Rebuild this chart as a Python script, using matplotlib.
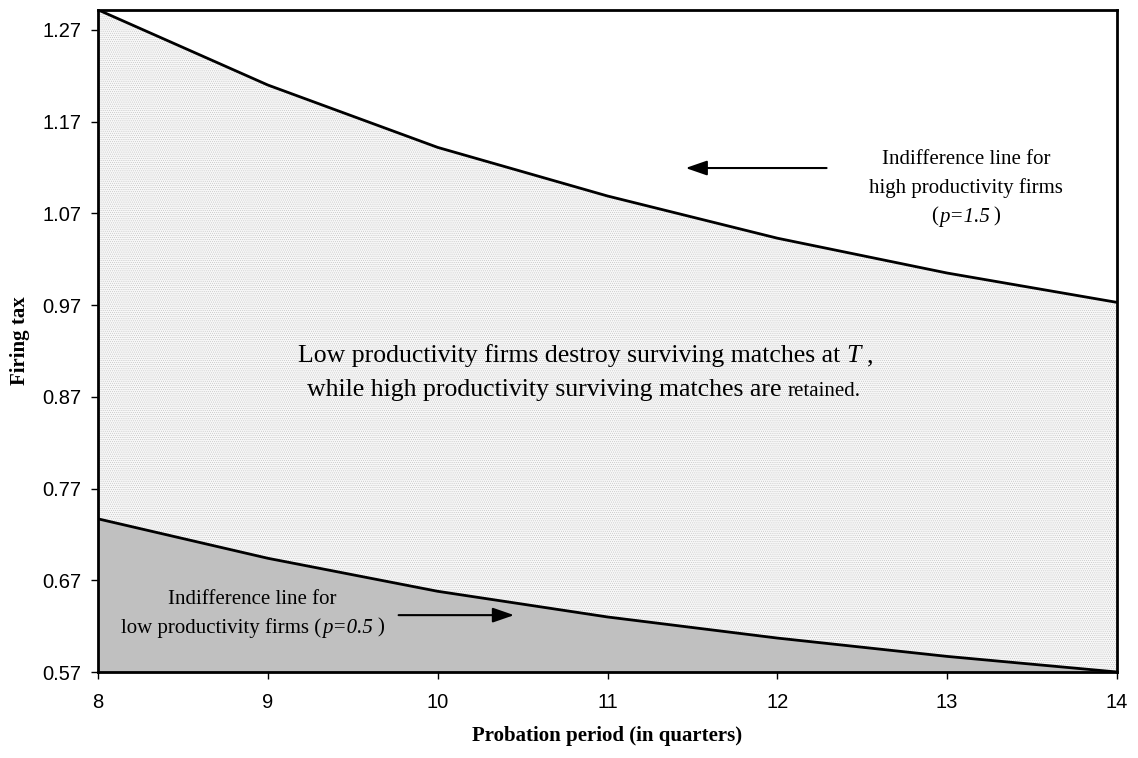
import matplotlib
matplotlib.use("Agg")
import matplotlib.pyplot as plt
import matplotlib.transforms as mtransforms

# Data
periods = [8, 9, 10, 11, 12, 13, 14]
high_line = [1.292, 1.210, 1.142, 1.089, 1.043, 1.005, 0.973]
low_line = [0.737, 0.694, 0.658, 0.630, 0.607, 0.587, 0.570]
yticks = [0.57, 0.67, 0.77, 0.87, 0.97, 1.07, 1.17, 1.27]
xticks = [8, 9, 10, 11, 12, 13, 14]

plt.rcParams['hatch.linewidth'] = 0.4
serif = 'Liberation Serif'

fig = plt.figure(figsize=(11.38, 7.58), dpi=100)
ax = fig.add_axes([98/1138, 1-672/758, (1117-98)/1138, (672-10)/758])

ymin, ymax = 0.57, 1.2918
ax.set_xlim(8, 14)
ax.set_ylim(ymin, ymax)

# Fills
ax.fill_between(periods, ymin, low_line, facecolor='#c0c0c0', edgecolor='none', zorder=1)
ax.fill_between(periods, low_line, high_line, facecolor='#f7f7f7', edgecolor='#c4c4c4',
                hatch='........', linewidth=0, zorder=1)

ax.plot(periods, high_line, color='black', lw=2, zorder=3)
ax.plot(periods, low_line, color='black', lw=2, zorder=3)

for s in ax.spines.values():
    s.set_linewidth(2)
    s.set_zorder(4)

ax.set_xticks(xticks)
ax.set_yticks(yticks)
ax.set_xticklabels([str(v) for v in xticks], fontsize=14.5, family='Liberation Sans')
ax.set_yticklabels([f"{v:.2f}" for v in yticks], fontsize=14.5, family='Liberation Sans')
ax.tick_params(axis='x', direction='out', length=5, width=1, pad=10)
ax.tick_params(axis='y', direction='out', length=5, width=1, pad=7)

ax.set_xlabel('Probation period (in quarters)', fontsize=15, family=serif,
              fontweight='bold', labelpad=10)
ax.set_ylabel('Firing tax', fontsize=15, family=serif, fontweight='bold', labelpad=9)

renderer = fig.canvas.get_renderer()


def rich_line(x, y, pieces, ha='center'):
    """pieces: list of (text, fontsize, style, gap_before_px)."""
    texts = []
    widths = []
    for txt, fs, style, gap in pieces:
        t = ax.text(x, y, txt, fontsize=fs, style=style, family=serif,
                    ha='left', va='baseline', zorder=5)
        w = t.get_window_extent(renderer).width
        texts.append(t)
        widths.append(w)
    total = sum(widths) + sum(p[3] for p in pieces)
    start = -total / 2 if ha == 'center' else 0.0
    off = start
    for t, w, p in zip(texts, widths, pieces):
        off += p[3]
        t.set_transform(ax.transData + mtransforms.ScaledTranslation(off / fig.dpi, 0, fig.dpi_scale_trans))
        off += w


# Upper annotation (baselines)
fs = 15
rich_line(13.11, 1.124, [('Indifference line for', fs, 'normal', 0)])
rich_line(13.11, 1.092, [('high productivity firms', fs, 'normal', 0)])
rich_line(13.11, 1.061, [('(', fs, 'normal', 0), ('p=1.5', fs, 'italic', 1), (')', fs, 'normal', 4)])
ax.annotate('', xy=(11.46, 1.1195), xytext=(12.29, 1.1195),
            arrowprops=dict(arrowstyle='-|>,head_length=1.3,head_width=0.45', color='black', lw=1.5,
                            shrinkA=0, shrinkB=0), zorder=5)

# Lower annotation
rich_line(8.91, 0.644, [('Indifference line for', fs, 'normal', 0)])
rich_line(8.91, 0.613, [('low productivity firms (', fs, 'normal', 0), ('p=0.5', fs, 'italic', 1),
                        (')', fs, 'normal', 4)])
ax.annotate('', xy=(10.45, 0.632), xytext=(9.77, 0.632),
            arrowprops=dict(arrowstyle='-|>,head_length=1.3,head_width=0.45', color='black', lw=1.5,
                            shrinkA=0, shrinkB=0), zorder=5)

# Middle text
rich_line(9.18, 0.908, [('Low productivity firms destroy surviving matches at', 18.5, 'normal', 0),
                        ('T', 18.5, 'italic', 6), (',', 18.5, 'normal', 6)], ha='left')
rich_line(9.23, 0.871, [('while high productivity surviving matches are', 18.5, 'normal', 0),
                        ('retained.', 15, 'normal', 6)], ha='left')

fig.savefig('out.png', dpi=100)
